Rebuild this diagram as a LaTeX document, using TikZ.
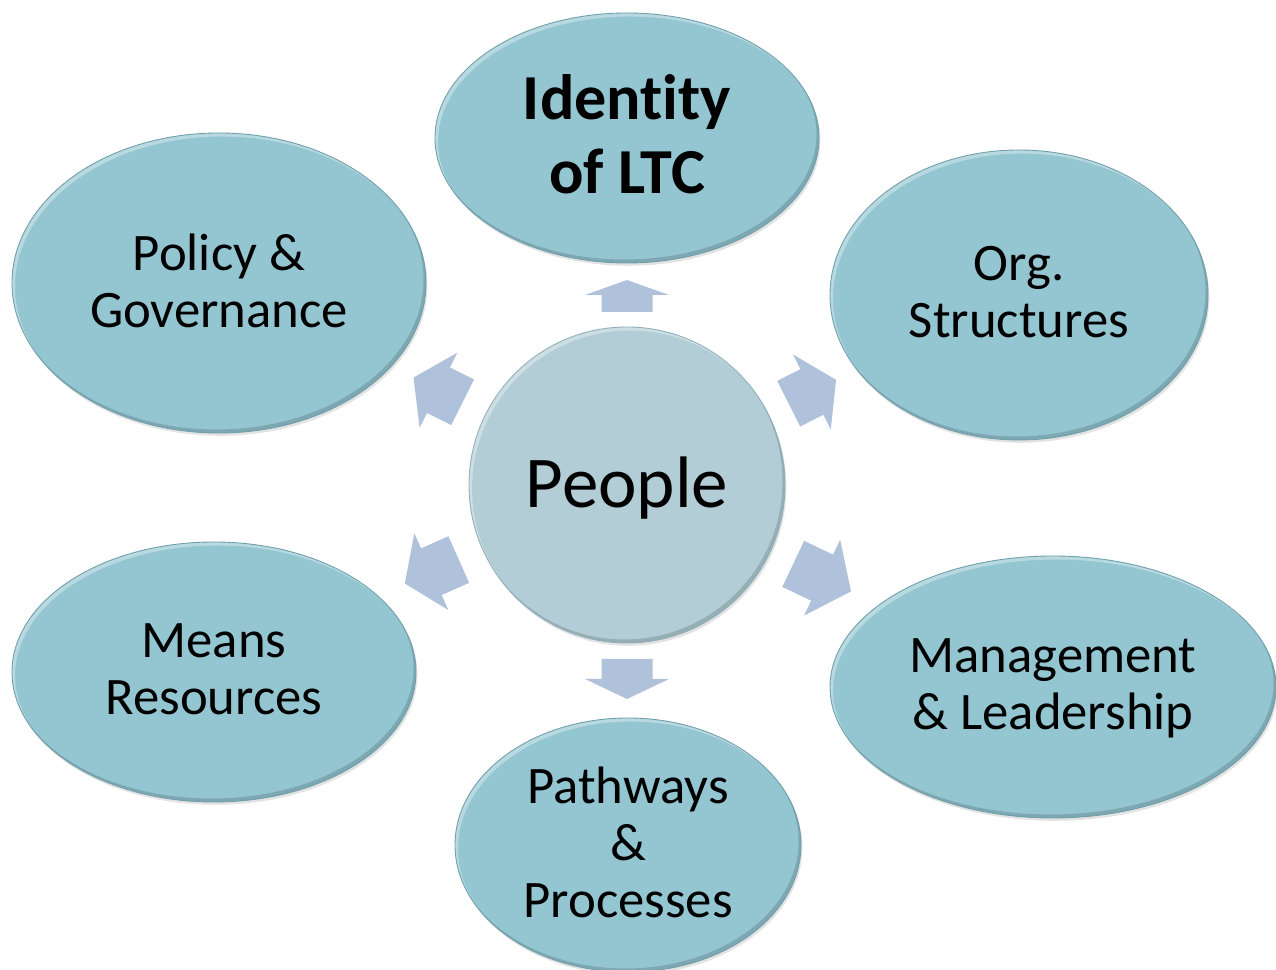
\documentclass[tikz,border=0pt]{standalone}
\usepackage{fontspec}
\setmainfont{Carlito}[Ligatures=NoCommon]
\usetikzlibrary{shapes.geometric,shadows}

\definecolor{bubblefill}{HTML}{94C6D2}
\definecolor{bubblerim}{HTML}{6F9FAB}
\definecolor{hubfill}{HTML}{B2CDD5}
\definecolor{hubrim}{HTML}{8FB0B9}
\definecolor{arrowfill}{HTML}{B0C1DC}

\tikzset{
	bevel/.style 2 args={path picture={
		\fill[white, opacity=0.35, even odd rule]
			([shift={(-20,-20)}]path picture bounding box.south west) rectangle ([shift={(20,20)}]path picture bounding box.north east)
			([shift={(3,-3.5)}]path picture bounding box.center) ellipse [x radius=#1, y radius=#2];
		\fill[black, opacity=0.15, even odd rule]
			([shift={(-20,-20)}]path picture bounding box.south west) rectangle ([shift={(20,20)}]path picture bounding box.north east)
			([shift={(-2.5,3.5)}]path picture bounding box.center) ellipse [x radius=#1, y radius=#2];
	}},
	bubble/.style 2 args={ellipse, draw=bubblerim, line width=0.5pt, fill=bubblefill,
		minimum width=#1*0.4mm, minimum height=#2*0.4mm, inner sep=0pt, align=center,
		font=\fontsize{30}{32.4}\selectfont, bevel={#1}{#2}, text depth=3pt,
		drop shadow={opacity=0.22, shadow xshift=0.8pt, shadow yshift=-1.6pt}},
	hub/.style={circle, draw=hubrim, line width=0.5pt, fill=hubfill,
		minimum size=#1*0.4mm, inner sep=0pt, bevel={#1}{#1},
		font=\fontsize{41.5}{48}\selectfont,
		drop shadow={opacity=0.22, shadow xshift=0.8pt, shadow yshift=-1.6pt},
		execute at begin node={\rule{0pt}{40pt}}, execute at end node=\strut},
	blockarrow/.style={fill=arrowfill}
}

\begin{document}
\begin{tikzpicture}[x=0.2mm, y=0.2mm]
			%%%%% START %%%%%
			\useasboundingbox (0, 0) rectangle (1276, 970);
			
			\node[bubble={192}{125}, font=\bfseries\fontsize{36.5}{42.5}\selectfont, text depth=4.5pt] (ident) at (627, 832) {Identity\\of LTC};
			\node[bubble={207}{150}] (policy) at (219, 687) {Policy \&\\Governance};
			\node[bubble={189}{145}] (org) at (1019, 675) {Org.\\Structures};
			\node[bubble={202}{130}] (means) at (214, 298) {Means\\Resources};
			\node[bubble={223}{131}] (mgmt) at (1053, 283) {Management\\\& Leadership};
			\node[bubble={173}{127}] (path) at (628, 125) {Pathways\\\&\\Processes};
			
			\node[hub={158}] (people) at (627, 485) {People};
			
			% arrows out of the hub: angle / shaft start / head base / tip
			\foreach \ang/\ra/\rb/\rc in {90/173/190/205, 26.7/181/207/234, -25.4/184/216/248,
				-90/174/194/214, -156.1/184/214/243, 153.3/184/211/239}
				\fill[blockarrow, shift={(people.center)}, rotate=\ang]
					(\ra, -25.5) -- (\rb, -25.5) -- (\rb, -42) -- (\rc, 0)
					-- (\rb, 42) -- (\rb, 25.5) -- (\ra, 25.5) -- cycle;
			
			%%%%% END %%%%%
\end{tikzpicture}
\end{document}
